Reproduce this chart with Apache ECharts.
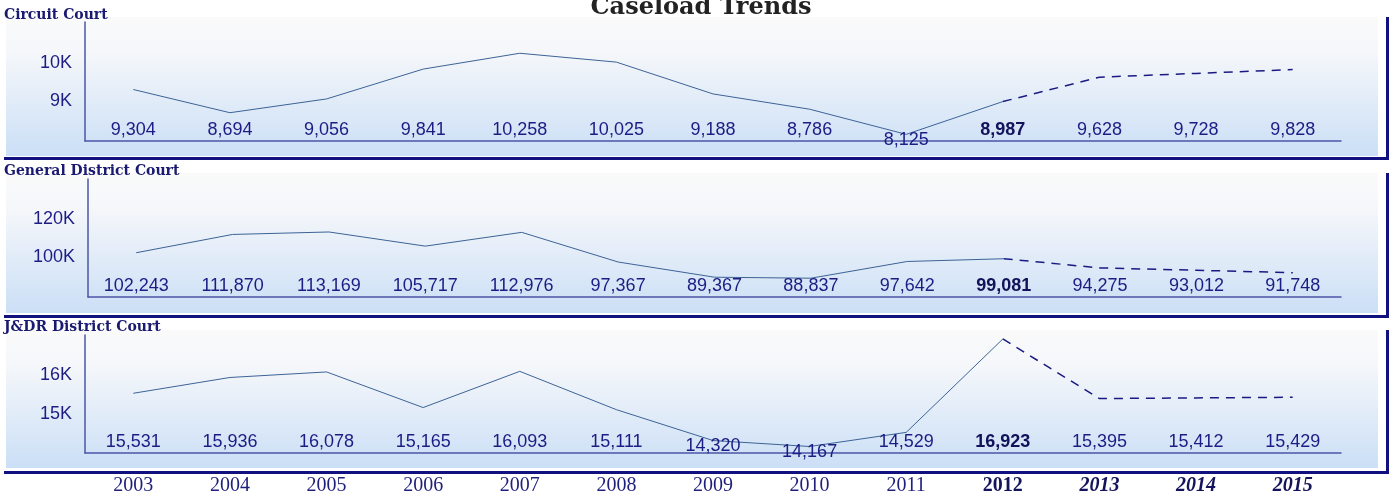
<!DOCTYPE html>
<html>
<head>
<meta charset="utf-8">
<title>Caseload Trends</title>
<script src="https://cdn.jsdelivr.net/npm/echarts@6/dist/echarts.min.js"></script>
<style>
  html, body { margin: 0; padding: 0; background: #fff; }
  #chart { width: 1391px; height: 497px; }
</style>
</head>
<body>
<div id="chart"></div>
<script>
var years = ["2003", "2004", "2005", "2006", "2007", "2008", "2009", "2010", "2011", "2012", "2013", "2014", "2015"];

var circuitActual = [9304, 8694, 9056, 9841, 10258, 10025, 9188, 8786, 8125, 8987];
var circuitProjected = [9628, 9728, 9828];
var circuitTicks = [9000, 10000];

var districtActual = [102243, 111870, 113169, 105717, 112976, 97367, 89367, 88837, 97642, 99081];
var districtProjected = [94275, 93012, 91748];
var districtTicks = [100000, 120000];

var jdrActual = [15531, 15936, 16078, 15165, 16093, 15111, 14320, 14167, 14529, 16923];
var jdrProjected = [15395, 15412, 15429];
var jdrTicks = [15000, 16000];

var navy = "#10107e";
var textNavy = "#1c1c84";
var axisBlue = "#4b56a8";

// layout of the three stacked panels
var panels = [
  { name: "Circuit Court", actual: circuitActual, projected: circuitProjected, ticks: circuitTicks,
    min: 7950, max: 11080, left: 85, top: 22, height: 119, boxTop: 17, boxBottom: 156, line: 157, titleY: 15.5 },
  { name: "General District Court", actual: districtActual, projected: districtProjected, ticks: districtTicks,
    min: 78950, max: 141050, left: 88, top: 179, height: 118, boxTop: 173, boxBottom: 313, line: 315, titleY: 171.5 },
  { name: "J&DR District Court", actual: jdrActual, projected: jdrProjected, ticks: jdrTicks,
    min: 14000, max: 17025, left: 85, top: 335, height: 118, boxTop: 330, boxBottom: 468, line: 471, titleY: 327.5 }
];

function fmt(v) {
  return v.toLocaleString("en-US");
}

var grids = [], xAxes = [], yAxes = [], series = [], graphics = [];

graphics.push({
  type: "text", z: 20,
  style: { text: "Caseload Trends", x: 701, y: 8, align: "center", verticalAlign: "middle",
           font: "bold 24px 'DejaVu Serif', serif", fill: "#222" }
});

panels.forEach(function (p, k) {
  var n = p.actual.length;
  var last = n - 1;

  graphics.push({
    type: "rect", z: -10,
    shape: { x: 6, y: p.boxTop, width: 1372, height: p.boxBottom - p.boxTop },
    style: {
      fill: new echarts.graphic.LinearGradient(0, 0, 0, 1, [
        { offset: 0, color: "#fafafa" },
        { offset: 0.25, color: "#f5f7fa" },
        { offset: 1, color: "#cbdff6" }
      ])
    }
  });
  graphics.push({ type: "rect", z: 20, shape: { x: 4, y: p.line, width: 1385, height: 3 }, style: { fill: navy } });
  graphics.push({ type: "rect", z: 20, shape: { x: 1386, y: p.boxTop, width: 3, height: p.line - p.boxTop + 3 }, style: { fill: navy } });
  graphics.push({
    type: "text", z: 20,
    style: { text: p.name, x: 4, y: p.titleY, align: "left", verticalAlign: "middle",
             font: "bold 14px 'DejaVu Serif', serif", fill: "#1a1a70" }
  });

  grids.push({ left: p.left, width: 1341 - p.left, top: p.top, height: p.height });

  xAxes.push({
    type: "category", gridIndex: k, data: years, boundaryGap: true,
    axisLine: { lineStyle: { color: axisBlue, width: 1.5 } },
    axisTick: { show: false },
    axisLabel: {
      show: k === panels.length - 1, interval: 0, margin: 23,
      formatter: function (v, i) {
        if (i < last) return "{n|" + v + "}";
        if (i === last) return "{b|" + v + "}";
        return "{i|" + v + "}";
      },
      rich: {
        n: { fontFamily: "Liberation Serif", fontSize: 20, color: "#1f1f7c" },
        b: { fontFamily: "Liberation Serif", fontSize: 20, fontWeight: "bold", color: "#14145c" },
        i: { fontFamily: "Liberation Serif", fontSize: 20, fontWeight: "bold", fontStyle: "italic", color: "#14145c" }
      }
    }
  });

  yAxes.push({
    type: "value", gridIndex: k, min: p.min, max: p.max,
    axisLine: { show: true, lineStyle: { color: axisBlue, width: 1.5 } },
    axisTick: { show: false },
    splitLine: { show: false },
    axisLabel: {
      margin: 13, fontFamily: "Liberation Sans", fontSize: 18, color: textNavy,
      formatter: function (v) {
        return p.ticks.indexOf(v) >= 0 ? (v / 1000) + "K" : "";
      }
    }
  });

  var all = p.actual.concat(p.projected);
  var solid = all.map(function (v, i) { return i <= last ? v : null; });
  var dashed = all.map(function (v, i) { return i >= last ? v : null; });

  series.push({
    type: "line", xAxisIndex: k, yAxisIndex: k, data: solid, symbol: "none",
    lineStyle: { color: "#3d6396", width: 1 }, z: 3
  });
  series.push({
    type: "line", xAxisIndex: k, yAxisIndex: k, data: dashed, symbol: "none",
    lineStyle: { color: "#1a1a82", width: 1.5, type: [9, 7] }, z: 3
  });
  series.push({
    type: "custom", xAxisIndex: k, yAxisIndex: k, z: 5,
    data: all.map(function (v, i) { return [i, v]; }),
    renderItem: function (params, api) {
      var i = api.value(0), v = api.value(1);
      var pt = api.coord([i, v]);
      var base = api.coord([i, p.min])[1];
      var y = Math.max(base - 11, pt[1] + 6);
      return {
        type: "text",
        style: {
          text: fmt(v), x: pt[0], y: y, align: "center", verticalAlign: "middle",
          font: (i === last ? "bold " : "") + "18px 'Liberation Sans', Arial, sans-serif",
          fill: i === last ? "#12125a" : textNavy
        }
      };
    }
  });
});

var chart = echarts.init(document.getElementById("chart"));
chart.setOption({
  animation: false,
  backgroundColor: "#fff",
  grid: grids,
  xAxis: xAxes,
  yAxis: yAxes,
  series: series,
  graphic: graphics
});
</script>
</body>
</html>
